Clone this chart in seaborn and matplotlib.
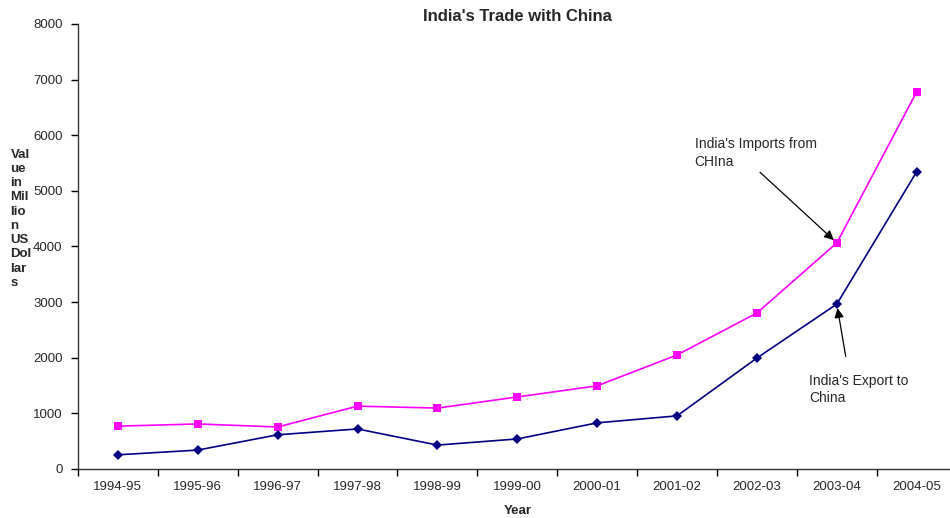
import numpy as np
import pandas as pd
import matplotlib.pyplot as plt
from matplotlib.ticker import FixedLocator
import seaborn as sns

# --- Data (million US dollars) ---
years = ["1994-95", "1995-96", "1996-97", "1997-98", "1998-99", "1999-00",
         "2000-01", "2001-02", "2002-03", "2003-04", "2004-05"]
imports_from_china = [770, 810, 755, 1130, 1095, 1295, 1495, 2050, 2805, 4065, 6780]
exports_to_china = [255, 340, 615, 720, 430, 540, 830, 955, 1995, 2965, 5345]

df = pd.DataFrame({"Year": years,
                   "Imports": imports_from_china,
                   "Exports": exports_to_china})

sns.set_theme(style="white")
plt.rcParams["font.family"] = ["Liberation Sans", "DejaVu Sans"]

fig = plt.figure(figsize=(9.5, 5.18), dpi=100)
ax = fig.add_axes([0.082, 0.0946, 0.925, 0.8591])

sns.lineplot(data=df, x="Year", y="Imports", ax=ax, color="#ff00ff",
             marker="s", markersize=6, markeredgewidth=0, linewidth=1.2)
sns.lineplot(data=df, x="Year", y="Exports", ax=ax, color="#000080",
             marker="D", markersize=5, markeredgewidth=0, linewidth=1.2)

ax.set_xlim(-0.5, len(years) - 0.5)
ax.set_ylim(0, 8000)
ax.set_yticks(range(0, 8001, 1000))

# ticks at category boundaries
ax.xaxis.set_minor_locator(FixedLocator(np.arange(-0.5, len(years), 1.0)))
ax.tick_params(axis="x", which="major", length=0, pad=9, labelsize=9.5)
ax.tick_params(axis="x", which="minor", length=5, width=1, color="black",
               direction="out", bottom=True)
ax.tick_params(axis="y", length=5, width=1, color="black", direction="out",
               left=True, labelsize=9.5, pad=6)

for side in ["top", "right"]:
    ax.spines[side].set_visible(False)
for side in ["left", "bottom"]:
    ax.spines[side].set_color("#333333")
    ax.spines[side].set_linewidth(1)

ax.set_title("India's Trade with China", fontsize=12, fontweight="bold", pad=2)
ax.set_xlabel("Year", fontsize=9.5, fontweight="bold", labelpad=8)
ax.set_ylabel("")
fig.text(0.011, 0.713, "Val\nue\nin\nMil\nlio\nn\nUS\nDol\nlar\ns",
         fontsize=9.5, fontweight="bold", va="top", ha="left", linespacing=1.25)

ax.annotate("India's Imports from\nCHIna", xy=(9, imports_from_china[9]),
            xytext=(7.22, 5680), fontsize=10, ha="left", va="center",
            linespacing=1.35,
            arrowprops=dict(arrowstyle="-|>", color="black", lw=0.9,
                            mutation_scale=14, shrinkA=0, shrinkB=3,
                            relpos=(0.45, 0.2)))
ax.annotate("India's Export to\nChina", xy=(9, exports_to_china[9]),
            xytext=(8.65, 1430), fontsize=10, ha="left", va="center",
            linespacing=1.35,
            arrowprops=dict(arrowstyle="-|>", color="black", lw=0.9,
                            mutation_scale=14, shrinkA=10, shrinkB=3,
                            relpos=(0.4, 1.0)))

fig.savefig("out.png", dpi=100)
